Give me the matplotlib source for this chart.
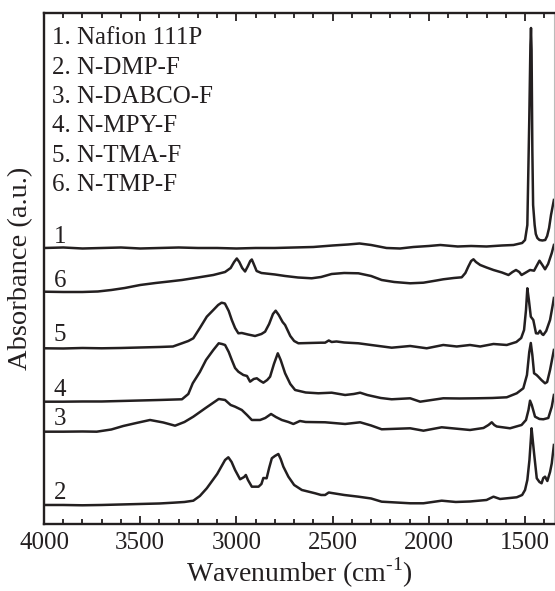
import numpy as np
import matplotlib.pyplot as plt
from matplotlib.ticker import MultipleLocator

plt.rcParams['font.family'] = ['Liberation Serif', 'DejaVu Serif']
plt.rcParams['mathtext.fontset'] = 'custom'
plt.rcParams['mathtext.rm'] = 'Liberation Serif'

INK = '#231f20'

# stacked FTIR spectra, absorbance in arbitrary (offset) units
wn_1 = [4000, 3900, 3800, 3700, 3600, 3500, 3400, 3300, 3200, 3100,
        3000, 2900, 2800, 2700, 2600, 2500, 2420, 2360, 2300, 2220,
        2150, 2080, 2000, 1940, 1850, 1780, 1700, 1620, 1560, 1515,
        1500, 1488, 1478, 1472, 1469, 1466, 1462, 1458, 1454, 1450,
        1444, 1436, 1425, 1410, 1395, 1385, 1375, 1365, 1355, 1350]
abs_1 = [276, 276.5, 275.5, 276, 276.5, 275.5, 276, 276.5, 276, 276,
         275.5, 276, 276, 276.5, 277, 278.5, 279.5, 280.5, 279, 276,
         275.5, 277, 278, 279, 277.5, 278, 277.5, 278.5, 279, 281,
         284, 299, 404, 479, 496, 474, 374, 319, 309, 299,
         290, 286, 284, 283.5, 284, 288, 296, 309, 319, 324]

wn_6 = [4000, 3900, 3800, 3720, 3650, 3580, 3500, 3420, 3350, 3283,
        3200, 3120, 3059, 3030, 3012, 2998, 2985, 2970, 2955, 2940,
        2928, 2920, 2910, 2895, 2870, 2800, 2747, 2680, 2609, 2560,
        2505, 2440, 2366, 2300, 2245, 2180, 2097, 2028, 1960, 1925,
        1870, 1829, 1810, 1795, 1780, 1768, 1755, 1733, 1700, 1664,
        1620, 1586, 1565, 1547, 1530, 1518, 1500, 1474, 1453, 1440,
        1425, 1410, 1396, 1380, 1361, 1350]
abs_6 = [232.3, 232, 232, 232.5, 234, 236, 239, 241, 242.5, 244,
         246.5, 249, 252, 256, 262, 265.5, 262, 256, 252.5, 258,
         263, 264.5, 260, 253, 251, 249.5, 248, 246.5, 245.7, 247,
         250, 251, 250.7, 248, 244, 242, 240.7, 241.3, 243.5, 244.7,
         246, 246.7, 251, 257.3, 263, 264.7, 262, 259, 256.5, 254,
         251.5, 249, 252, 254, 252, 249, 251, 254, 253.3, 258,
         263.3, 259, 254.7, 260, 271, 279]

wn_5 = [4000, 3900, 3800, 3700, 3600, 3500, 3400, 3330, 3283, 3250,
        3224, 3190, 3154, 3120, 3095, 3077, 3060, 3040, 3024, 3007,
        2990, 2972, 2940, 2903, 2870, 2851, 2830, 2810, 2796, 2780,
        2760, 2747, 2720, 2700, 2678, 2620, 2560, 2539, 2520, 2505,
        2480, 2440, 2366, 2300, 2193, 2097, 2011, 1925, 1855, 1786,
        1733, 1664, 1595, 1545, 1520, 1505, 1495, 1488, 1480, 1470,
        1457, 1443, 1432, 1422, 1412, 1405, 1390, 1370, 1355, 1350]
abs_5 = [175.7, 175.5, 176, 175.7, 176, 176.5, 177, 177.5, 180.7, 183,
         185.7, 196, 207.3, 214, 219, 221.3, 220.5, 213, 204, 196,
         190.7, 191, 189.5, 188, 190, 192.3, 200, 210, 213.3, 209,
         202, 199, 188, 183, 180.7, 181, 181.3, 181.3, 183.5, 182,
         182.5, 181.5, 180.7, 179, 176.3, 178, 175.7, 179, 177.5, 179,
         177.5, 180, 179, 182, 186, 194, 214, 235.7, 224, 207.3,
         204, 190.7, 190.5, 193.3, 190, 189, 193, 204, 220, 226]

wn_4 = [4000, 3900, 3800, 3700, 3600, 3500, 3400, 3283, 3250, 3227,
        3190, 3158, 3120, 3092, 3075, 3059, 3040, 3024, 3007, 2990,
        2964, 2945, 2929, 2910, 2894, 2875, 2860, 2840, 2825, 2805,
        2785, 2770, 2747, 2720, 2695, 2640, 2574, 2505, 2435, 2390,
        2357, 2320, 2250, 2193, 2097, 2045, 1925, 1840, 1751, 1670,
        1595, 1543, 1509, 1490, 1478, 1470, 1462, 1453, 1440, 1431,
        1415, 1396, 1385, 1370, 1355, 1350]
abs_4 = [122.3, 122.3, 122.5, 122.5, 123, 123.5, 124, 124.7, 130, 140.7,
         152, 164, 174, 180.7, 180, 179, 172, 164, 156, 152.3,
         149, 148, 142.3, 145, 145.7, 143, 141.3, 144, 147.3, 160,
         170.7, 164, 150.7, 140, 134, 131.5, 130.7, 131.3, 129, 130,
         131.3, 129, 126, 124.7, 125.7, 122.3, 125.7, 125.5, 125.7, 126,
         126.7, 130.7, 135.7, 149, 172, 181, 169, 150.7, 149, 147.3,
         144, 140.7, 142, 154, 169, 174]

wn_3 = [4000, 3900, 3800, 3726, 3650, 3588, 3520, 3449, 3380, 3319,
        3270, 3224, 3160, 3092, 3059, 3030, 3007, 2972, 2945, 2920,
        2877, 2850, 2820, 2795, 2764, 2730, 2704, 2670, 2640, 2539,
        2435, 2357, 2300, 2245, 2097, 2028, 1933, 1786, 1716, 1690,
        1673, 1660, 1647, 1578, 1518, 1495, 1482, 1474, 1465, 1448,
        1425, 1405, 1379, 1361, 1350]
abs_3 = [92.3, 92.3, 92.5, 92.3, 94.5, 98, 101, 104, 101.5, 98.3,
         102, 107.3, 116, 125, 124, 119, 117.3, 114, 109, 104,
         104, 106, 110, 107, 104, 102, 100, 103, 102, 101.7,
         100, 101.7, 98.5, 94.7, 95.7, 93.3, 96.7, 94, 96, 99,
         101.7, 99, 97.5, 95.7, 99, 104, 114, 123.3, 119, 107.3,
         105, 104.7, 106, 117.3, 129]

wn_2 = [4000, 3900, 3800, 3700, 3600, 3500, 3400, 3327, 3270, 3224,
        3190, 3154, 3100, 3059, 3042, 3025, 3007, 2981, 2960, 2951,
        2940, 2920, 2885, 2870, 2860, 2843, 2830, 2816, 2800, 2782,
        2770, 2756, 2730, 2700, 2660, 2591, 2560, 2539, 2520, 2505,
        2440, 2366, 2300, 2245, 2097, 2028, 1933, 1860, 1786, 1700,
        1664, 1630, 1543, 1515, 1500, 1488, 1477, 1470, 1466, 1460,
        1453, 1439, 1425, 1414, 1405, 1396, 1384, 1370, 1361, 1350]
abs_2 = [19, 19, 18.7, 19, 19.5, 20, 20.5, 21.3, 22, 23.3,
         28, 35.7, 50, 64, 66.7, 62, 54, 44.7, 47, 49,
         44, 37.3, 37.3, 40, 46, 45.7, 56, 65.7, 68, 70,
         65, 57.3, 47.3, 39, 34, 30.7, 29, 29, 31.5, 31,
         29, 27.3, 25.5, 22.3, 20.7, 20.7, 23.3, 22, 22.5, 24,
         27.3, 25, 26.7, 29, 34, 44, 64, 84, 95.7, 84,
         70.7, 45.7, 42, 40.7, 46, 47.3, 43, 52, 60.7, 79]

trace_ids = ['1', '6', '5', '4', '3', '2']
label_y = [287, 243, 189, 134, 105, 31]
samples = ['1. Nafion 111P', '2. N-DMP-F', '3. N-DABCO-F',
           '4. N-MPY-F', '5. N-TMA-F', '6. N-TMP-F']

fig = plt.figure(figsize=(5.55, 5.91), dpi=100)
ax = fig.add_axes([0.0793, 0.1134, 0.9187, 0.8646])

for wn, ab in [(wn_1, abs_1), (wn_6, abs_6), (wn_5, abs_5),
               (wn_4, abs_4), (wn_3, abs_3), (wn_2, abs_2)]:
    ax.plot(wn, ab, color=INK, lw=1.8, solid_joinstyle='round')

for tid, ly in zip(trace_ids, label_y):
    ax.text(3917, ly, tid, fontsize=18, ha='center', va='center', color=INK)

for i, s in enumerate(samples):
    ax.text(0.016, 0.951 - i * 0.0577, s, transform=ax.transAxes,
            fontsize=18, ha='left', va='center', color=INK)

ax.set_xlim(4000, 1350)
ax.set_ylim(0, 511)
ax.xaxis.set_major_locator(MultipleLocator(500))
ax.xaxis.set_minor_locator(MultipleLocator(100))
ax.tick_params(axis='x', which='both', direction='in', top=True,
               labelsize=18, pad=6, colors=INK, width=1.3)
ax.tick_params(axis='x', which='major', length=6)
ax.tick_params(axis='x', which='minor', length=3.6)
ax.set_yticks([])

for side in ['left', 'bottom', 'top']:
    ax.spines[side].set_linewidth(1.7)
    ax.spines[side].set_color(INK)
ax.spines['right'].set_linewidth(0.8)
ax.spines['right'].set_color('#bbbbbb')

ax.set_xlabel(r'Wavenumber (cm$^{\text{-1}}$)', fontsize=20, color=INK,
              labelpad=1)
ax.set_ylabel('Absorbance (a.u.)', fontsize=20.5, color=INK)
ax.yaxis.set_label_coords(-0.022, 0.5)

plt.savefig('out.png', dpi=100)
